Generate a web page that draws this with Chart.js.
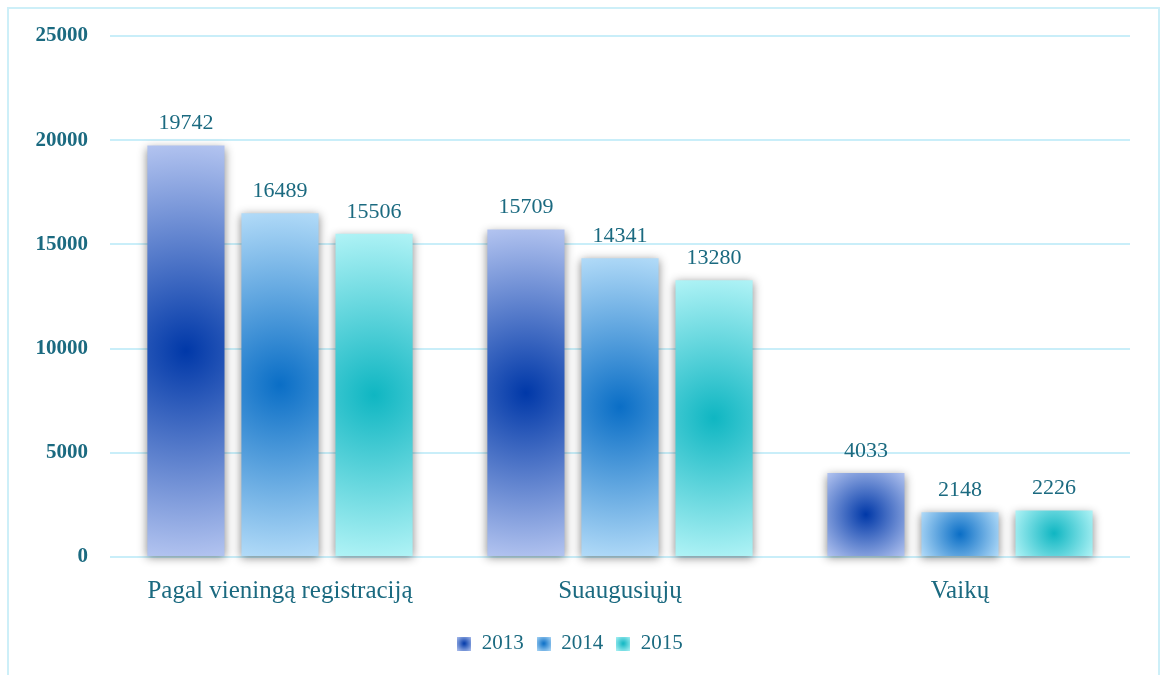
<!DOCTYPE html>
<html>
<head>
<meta charset="utf-8">
<script src="https://cdn.jsdelivr.net/npm/chart.js@4"></script>
<style>
  html,body{margin:0;padding:0;background:#fff;}
  #wrap{position:relative;width:1160px;height:675px;}
  #cadre{position:absolute;left:7px;top:7px;width:1153px;height:700px;border:2px solid #cdeff8;box-sizing:border-box;}
  canvas{position:absolute;left:0;top:0;}
</style>
</head>
<body>
<div id="wrap"><div id="cadre"></div><canvas id="graph" width="1160" height="675"></canvas></div>
<script>
/* ---- données ---- */
const categories = ['Pagal vieningą registraciją', 'Suaugusiųjų', 'Vaikų'];
const annees = ['2013', '2014', '2015'];
const v2013 = [19742, 15709, 4033];
const v2014 = [16489, 14341, 2148];
const v2015 = [15506, 13280, 2226];
const graduations = [0, 5000, 10000, 15000, 20000, 25000];

/* couleurs : centre foncé, bords clairs */
const teintes = [
  {centre:'#0038a8', bord:'#b3c4f0'},
  {centre:'#0a6ec6', bord:'#b2dbf8'},
  {centre:'#0fb6c2', bord:'#b0f3f6'}
];
const TXT = '#1b6a80';
const SERIF = '"Liberation Serif", "DejaVu Serif", serif';

/* dégradé radial centré sur la barre */
function degrade(ctx, el, t){
  const x = el.x, top = Math.min(el.y, el.base), bas = Math.max(el.y, el.base);
  const cy = (top + bas) / 2, h = bas - top, w = el.width;
  const r = Math.sqrt((w/2)*(w/2) + (h/2)*(h/2));
  const g = ctx.createRadialGradient(x, cy, 0, x, cy, r);
  g.addColorStop(0, t.centre);
  g.addColorStop(1, t.bord);
  return g;
}

/* petite pastille dégradée pour la légende */
function pastille(t){
  const cv = document.createElement('canvas'); cv.width = 14; cv.height = 14;
  const c = cv.getContext('2d');
  const g = c.createRadialGradient(7, 7, 0, 7, 7, 10);
  g.addColorStop(0, t.centre); g.addColorStop(1, t.bord);
  c.fillStyle = g; c.fillRect(0, 0, 14, 14);
  return cv;
}

/* dégradés + ombre portée */
const ombre = {
  id:'ombre',
  beforeDatasetsDraw(ch){
    const ctx = ch.ctx;
    ch.data.datasets.forEach((ds, i) => {
      ch.getDatasetMeta(i).data.forEach(el => {
        el.options = Object.assign({}, el.options, {backgroundColor: degrade(ctx, el, teintes[i])});
      });
    });
    ctx.save();
    ctx.shadowColor = 'rgba(0,0,0,0.45)'; ctx.shadowBlur = 9; ctx.shadowOffsetX = 0; ctx.shadowOffsetY = 2;
  },
  afterDatasetsDraw(ch){ ch.ctx.restore(); }
};

const etiquettes = {
  id:'etiquettes',
  afterDatasetsDraw(ch){
    const ctx = ch.ctx; ctx.save();
    ctx.font = '22px ' + SERIF; ctx.fillStyle = TXT;
    ctx.textAlign = 'center'; ctx.textBaseline = 'bottom';
    ch.data.datasets.forEach((ds, i) => {
      ch.getDatasetMeta(i).data.forEach((b, j) => {
        ctx.fillText(ds.data[j], b.x, b.y - 11);
      });
    });
    ctx.restore();
  }
};

const series = [v2013, v2014, v2015];
new Chart(document.getElementById('graph'), {
  type:'bar',
  data:{labels:categories, datasets: series.map((d, i) => ({
    label: annees[i], data: d, clip: false,
    backgroundColor: teintes[i].centre,
    categoryPercentage: 0.83, barPercentage: 0.82
  }))},
  options:{
    responsive:false, animation:false,
    layout:{padding:{left:10, right:30, top:36, bottom:11}},
    plugins:{
      tooltip:{enabled:false},
      legend:{position:'bottom', labels:{
        color:TXT, font:{family:SERIF, size:21}, usePointStyle:true, boxWidth:14, boxHeight:14, padding:13,
        generateLabels(ch){
          const l = Chart.defaults.plugins.legend.labels.generateLabels(ch);
          l.forEach((it, i) => { it.pointStyle = pastille(teintes[i]); });
          return l;
        }
      }}
    },
    scales:{
      x:{grid:{display:false}, border:{display:false},
         ticks:{color:TXT, font:{family:SERIF, size:25}, padding:11},
         afterFit(s){ s.height = 63; }},
      y:{min:0, max:25000, afterBuildTicks(s){ s.ticks = graduations.map(v => ({value:v})); },
         grid:{color:'#c9eef9', lineWidth:2, drawTicks:false}, border:{display:false},
         ticks:{color:TXT, font:{family:SERIF, size:21, weight:'bold'}, padding:22, callback:v => String(v)},
         afterFit(s){ s.width = 100; }}
    }
  },
  plugins:[ombre, etiquettes]
});
</script>
</body>
</html>
